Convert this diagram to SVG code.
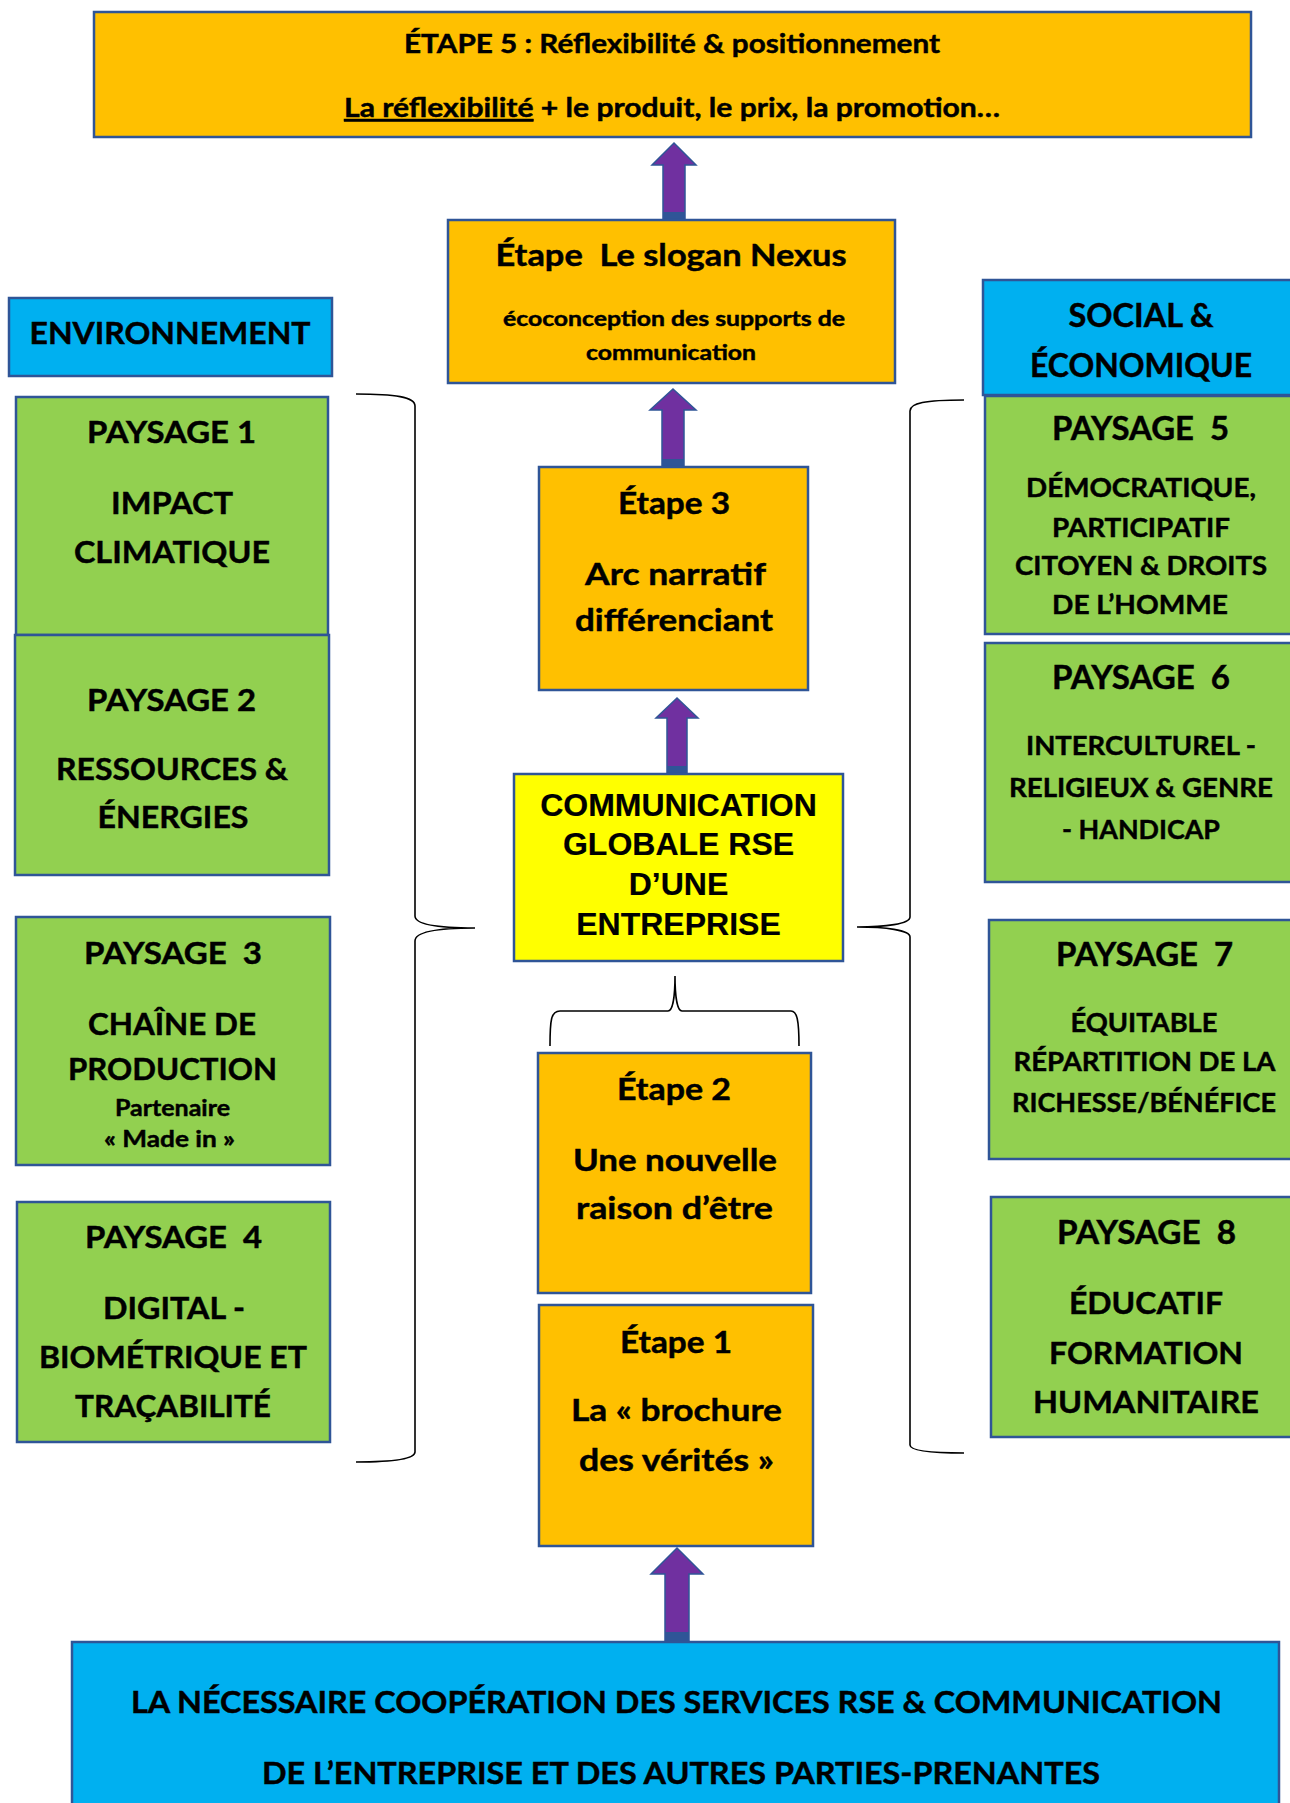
<svg xmlns="http://www.w3.org/2000/svg" width="1290" height="1803" viewBox="0 0 1290 1803">
<style>
.box{stroke:#2F5597;stroke-width:2.5}
.or{fill:#FFC000}.gr{fill:#92D050}.bl{fill:#00B0F0}.ye{fill:#FFFF00}
text{font-family:Lato,"Open Sans","Liberation Sans",sans-serif;font-weight:700;fill:#000;stroke:#000;stroke-width:0.45;text-anchor:middle;white-space:pre}
.ar{font-family:"Liberation Sans",Arial,sans-serif;font-size:32px;stroke-width:0.2}
.brace{fill:none;stroke:#000;stroke-width:1.6}
.arrow{fill:#7030A0;stroke:#2F5597;stroke-width:1.5}
.band{fill:#2F5597}
</style>
<rect width="1290" height="1803" fill="#fff"/>

<g id="connectors">
  <path class="brace" d="M356 394 C395 394 415 397 415 406 L415 916 C415 925 440 928 475 928 C440 928 415 931 415 941 L415 1452 C415 1459 395 1462 356 1462"/>
  <path class="brace" d="M964 400 C925 400 910 403 910 411 L910 917 C910 924 885 927 857 927 C885 927 910 930 910 937 L910 1445 C910 1450 925 1453 964 1453"/>
  <path class="brace" d="M550 1046 C550 1020 551 1011 560 1011 L668 1011 C673 1011 675 995 675 976 C675 995 677 1011 682 1011 L791 1011 C797 1011 799 1020 799 1046"/>
  <g id="arrow1"><path class="arrow" d="M674 143 L696 165 L685 165 L685 219 L663 219 L663 165 L652 165 Z"/><rect class="band" x="663" y="212" width="22" height="7"/></g>
  <g id="arrow2"><path class="arrow" d="M673 389 L696 410 L684 410 L684 467 L662 467 L662 410 L650 410 Z"/><rect class="band" x="662" y="459" width="22" height="8"/></g>
  <g id="arrow3"><path class="arrow" d="M677 698 L698 718 L687 718 L687 774 L667 774 L667 718 L656 718 Z"/><rect class="band" x="667" y="766" width="20" height="8"/></g>
  <g id="arrow4"><path class="arrow" d="M677 1548 L703 1574 L689 1574 L689 1642 L665 1642 L665 1574 L651 1574 Z"/><rect class="band" x="665" y="1632" width="24" height="10"/></g>
</g>

<g id="etape5">
  <rect class="box or" x="94" y="12" width="1157" height="125"/>
  <text x="672" y="53" font-size="26" textLength="536" lengthAdjust="spacingAndGlyphs">ÉTAPE 5 : Réflexibilité &amp; positionnement</text>
  <text x="672" y="117" font-size="26" textLength="656" lengthAdjust="spacingAndGlyphs"><tspan text-decoration="underline">La réflexibilité</tspan> + le produit, le prix, la promotion…</text>
</g>

<g id="nexus">
  <rect class="box or" x="448" y="220" width="447" height="163"/>
  <text xml:space="preserve" x="671" y="266" font-size="31" textLength="351" lengthAdjust="spacingAndGlyphs">Étape  Le slogan Nexus</text>
  <text x="674" y="326" font-size="20" textLength="342" lengthAdjust="spacingAndGlyphs">écoconception des supports de</text>
  <text x="671" y="360" font-size="20" textLength="170" lengthAdjust="spacingAndGlyphs">communication</text>
</g>

<g id="environnement">
  <rect class="box bl" x="9" y="298" width="323" height="78"/>
  <text x="170" y="344" font-size="31" textLength="281" lengthAdjust="spacingAndGlyphs">ENVIRONNEMENT</text>
</g>

<g id="social">
  <rect class="box bl" x="983" y="280" width="320" height="115"/>
  <text x="1141" y="327" font-size="32.5" textLength="145" lengthAdjust="spacingAndGlyphs">SOCIAL &amp;</text>
  <text x="1141" y="377" font-size="32.5" textLength="222" lengthAdjust="spacingAndGlyphs">ÉCONOMIQUE</text>
</g>

<g id="paysage1">
  <rect class="box gr" x="16" y="397" width="312" height="238"/>
  <text x="171.5" y="443" font-size="31" textLength="169" lengthAdjust="spacingAndGlyphs">PAYSAGE 1</text>
  <text x="172" y="514" font-size="31" textLength="122" lengthAdjust="spacingAndGlyphs">IMPACT</text>
  <text x="172" y="563" font-size="31" textLength="196" lengthAdjust="spacingAndGlyphs">CLIMATIQUE</text>
</g>

<g id="paysage2">
  <rect class="box gr" x="15" y="635" width="314" height="240"/>
  <text x="171.5" y="711" font-size="31" textLength="169" lengthAdjust="spacingAndGlyphs">PAYSAGE 2</text>
  <text x="172" y="780" font-size="31" textLength="232" lengthAdjust="spacingAndGlyphs">RESSOURCES &amp;</text>
  <text x="173" y="828" font-size="31" textLength="151" lengthAdjust="spacingAndGlyphs">ÉNERGIES</text>
</g>

<g id="paysage3">
  <rect class="box gr" x="16" y="917" width="314" height="248"/>
  <text xml:space="preserve" x="173" y="964" font-size="31" textLength="178" lengthAdjust="spacingAndGlyphs">PAYSAGE  3</text>
  <text x="172" y="1035" font-size="30" textLength="168" lengthAdjust="spacingAndGlyphs">CHAÎNE DE</text>
  <text x="172.5" y="1080" font-size="30" textLength="209" lengthAdjust="spacingAndGlyphs">PRODUCTION</text>
  <text x="172.5" y="1116" font-size="22" textLength="115" lengthAdjust="spacingAndGlyphs">Partenaire</text>
  <text x="169.5" y="1147" font-size="22" textLength="131" lengthAdjust="spacingAndGlyphs">« Made in »</text>
</g>

<g id="paysage4">
  <rect class="box gr" x="17" y="1202" width="313" height="240"/>
  <text xml:space="preserve" x="173.5" y="1248" font-size="31" textLength="177" lengthAdjust="spacingAndGlyphs">PAYSAGE  4</text>
  <text x="174" y="1319" font-size="31" textLength="142" lengthAdjust="spacingAndGlyphs">DIGITAL -</text>
  <text x="173" y="1368" font-size="31" textLength="268" lengthAdjust="spacingAndGlyphs">BIOMÉTRIQUE ET</text>
  <text x="173" y="1417" font-size="31" textLength="196" lengthAdjust="spacingAndGlyphs">TRAÇABILITÉ</text>
</g>

<g id="etape3">
  <rect class="box or" x="539" y="467" width="269" height="223"/>
  <text x="674" y="514" font-size="29.5" textLength="112" lengthAdjust="spacingAndGlyphs">Étape 3</text>
  <text x="675.5" y="585" font-size="31" textLength="181" lengthAdjust="spacingAndGlyphs">Arc narratif</text>
  <text x="674" y="631" font-size="31" textLength="198" lengthAdjust="spacingAndGlyphs">différenciant</text>
</g>

<g id="communication">
  <rect class="box ye" x="514" y="774" width="329" height="187"/>
  <text class="ar" x="678.5" y="816">COMMUNICATION</text>
  <text class="ar" x="678.5" y="855">GLOBALE RSE</text>
  <text class="ar" x="678.5" y="895">D’UNE</text>
  <text class="ar" x="678.5" y="935">ENTREPRISE</text>
</g>

<g id="etape2">
  <rect class="box or" x="538" y="1053" width="273" height="240"/>
  <text x="674" y="1100" font-size="29.5" textLength="114" lengthAdjust="spacingAndGlyphs">Étape 2</text>
  <text x="675" y="1171" font-size="31" textLength="204" lengthAdjust="spacingAndGlyphs">Une nouvelle</text>
  <text x="674.5" y="1219" font-size="31" textLength="197" lengthAdjust="spacingAndGlyphs">raison d’être</text>
</g>

<g id="etape1">
  <rect class="box or" x="539" y="1305" width="274" height="241"/>
  <text x="676" y="1353" font-size="29.5" textLength="112" lengthAdjust="spacingAndGlyphs">Étape 1</text>
  <text x="676.5" y="1421" font-size="31" textLength="211" lengthAdjust="spacingAndGlyphs">La « brochure</text>
  <text x="676.5" y="1471" font-size="31" textLength="195" lengthAdjust="spacingAndGlyphs">des vérités »</text>
</g>

<g id="paysage5">
  <rect class="box gr" x="985" y="396" width="318" height="238"/>
  <text xml:space="preserve" x="1140.5" y="440" font-size="31.5" textLength="177" lengthAdjust="spacingAndGlyphs">PAYSAGE  5</text>
  <text x="1141" y="497" font-size="27" textLength="230" lengthAdjust="spacingAndGlyphs">DÉMOCRATIQUE,</text>
  <text x="1141" y="537" font-size="27" textLength="178" lengthAdjust="spacingAndGlyphs">PARTICIPATIF</text>
  <text x="1141" y="575" font-size="27" textLength="252" lengthAdjust="spacingAndGlyphs">CITOYEN &amp; DROITS</text>
  <text x="1140" y="614" font-size="27" textLength="176" lengthAdjust="spacingAndGlyphs">DE L’HOMME</text>
</g>

<g id="paysage6">
  <rect class="box gr" x="985" y="643" width="318" height="239"/>
  <text xml:space="preserve" x="1141" y="688.5" font-size="31.5" textLength="178" lengthAdjust="spacingAndGlyphs">PAYSAGE  6</text>
  <text x="1141" y="755" font-size="27" textLength="230" lengthAdjust="spacingAndGlyphs">INTERCULTUREL -</text>
  <text x="1141" y="797" font-size="27" textLength="264" lengthAdjust="spacingAndGlyphs">RELIGIEUX &amp; GENRE</text>
  <text x="1141" y="839" font-size="27" textLength="158" lengthAdjust="spacingAndGlyphs">- HANDICAP</text>
</g>

<g id="paysage7">
  <rect class="box gr" x="989" y="920" width="314" height="239"/>
  <text xml:space="preserve" x="1144.5" y="966" font-size="31.5" textLength="177" lengthAdjust="spacingAndGlyphs">PAYSAGE  7</text>
  <text x="1144" y="1032" font-size="27" textLength="147" lengthAdjust="spacingAndGlyphs">ÉQUITABLE</text>
  <text x="1144.5" y="1071" font-size="27" textLength="262" lengthAdjust="spacingAndGlyphs">RÉPARTITION DE LA</text>
  <text x="1144" y="1111.5" font-size="27" textLength="264" lengthAdjust="spacingAndGlyphs">RICHESSE/BÉNÉFICE</text>
</g>

<g id="paysage8">
  <rect class="box gr" x="991" y="1197" width="312" height="240"/>
  <text xml:space="preserve" x="1146.5" y="1243.5" font-size="31.5" textLength="179" lengthAdjust="spacingAndGlyphs">PAYSAGE  8</text>
  <text x="1146" y="1314" font-size="31" textLength="154" lengthAdjust="spacingAndGlyphs">ÉDUCATIF</text>
  <text x="1146" y="1364" font-size="31" textLength="194" lengthAdjust="spacingAndGlyphs">FORMATION</text>
  <text x="1146" y="1413" font-size="31" textLength="226" lengthAdjust="spacingAndGlyphs">HUMANITAIRE</text>
</g>

<g id="cooperation">
  <rect class="box bl" x="72" y="1642" width="1207" height="175"/>
  <text x="676.5" y="1713" font-size="31" textLength="1091" lengthAdjust="spacingAndGlyphs">LA NÉCESSAIRE COOPÉRATION DES SERVICES RSE &amp; COMMUNICATION</text>
  <text x="681" y="1784" font-size="31" textLength="838" lengthAdjust="spacingAndGlyphs">DE L’ENTREPRISE ET DES AUTRES PARTIES-PRENANTES</text>
</g>
</svg>
